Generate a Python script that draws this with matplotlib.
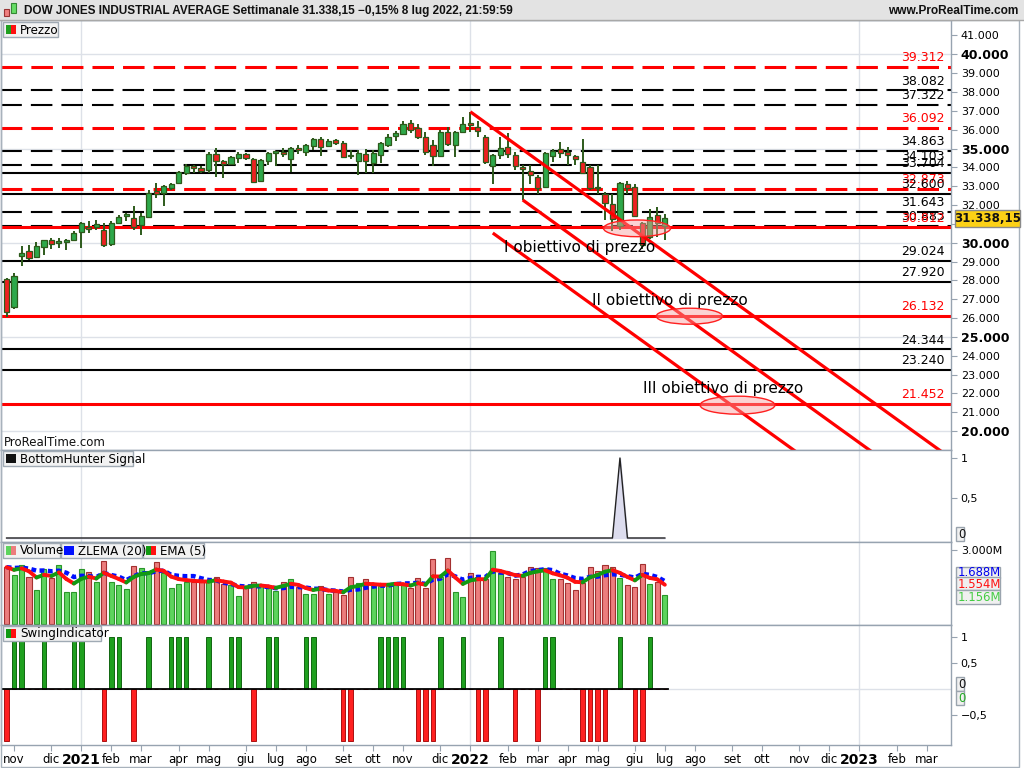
import matplotlib
matplotlib.use('Agg')
import matplotlib.pyplot as plt
import matplotlib.dates as mdates
import matplotlib.transforms as mtransforms
from matplotlib.patches import Rectangle, Ellipse
from matplotlib.collections import LineCollection
import numpy as np
import pandas as pd

plt.rcParams['font.family'] = ['DejaVu Sans']
plt.rcParams['lines.scale_dashes'] = False

# ---------------- data ----------------
week_start = '2020-10-26'
opens = [28060, 26570, 29300, 29550, 29230, 29760, 30160, 29990, 30040, 30150,
         30590, 30860, 30850, 30670, 29930, 31060, 31420, 31300, 30950, 31390,
         32750, 32650, 32900, 33150, 33700, 34060, 33950, 33870, 34690, 34340,
         34170, 34520, 34710, 34430, 33250, 34340, 34780, 34800, 34440, 35020,
         34840, 35130, 35490, 35130, 35440, 35310, 34610, 34360, 34710, 34220,
         34660, 35190, 35680, 35760, 36330, 36070, 35600, 35180, 34600, 35890,
         35190, 35900, 36330, 36130, 35600, 34070, 34660, 35070, 34650, 34034,
         33800, 33500, 32950, 34600, 34960, 34800, 34600, 34300, 34030, 32980,
         32570, 32050, 30880, 33100, 32940, 31030, 30320, 31470, 30870]
highs = [28150, 28380, 29825, 29880, 30030, 30150, 30233, 30233, 30196, 30600,
         31120, 31150, 31205, 31030, 31160, 31470, 31590, 31950, 31560, 32800,
         33150, 33070, 33150, 33820, 34180, 34110, 34070, 34790, 35050, 34380,
         34620, 34830, 34760, 34500, 34450, 34800, 34830, 35050, 35100, 35170,
         35250, 35560, 35600, 35500, 35490, 35400, 34920, 34900, 35000, 34920,
         35330, 35760, 35950, 36460, 36500, 36300, 35860, 35450, 36000, 36150,
         35950, 36680, 36950, 36480, 35700, 34700, 35600, 35820, 34830, 34100,
         34100, 33600, 34800, 35000, 35360, 35100, 34650, 35500, 34100, 34120,
         32700, 32600, 33200, 33250, 33100, 31100, 31790, 31900, 31500]
lows = [26070, 26500, 28780, 29080, 29200, 29330, 29680, 29702, 29612, 30100,
        29740, 30500, 30674, 29760, 29800, 31040, 31170, 30700, 30410, 31300,
        32400, 31950, 32800, 33100, 33600, 33720, 33680, 33700, 33470, 33420,
        34100, 34246, 34400, 33150, 33200, 34100, 34087, 34560, 33740, 34720,
        34620, 34920, 34620, 35080, 35186, 34500, 34430, 33570, 33680, 33700,
        34250, 35080, 35410, 35700, 35840, 35480, 34650, 34060, 34550, 35120,
        34560, 35860, 35900, 35600, 34200, 33100, 34430, 34480, 33860, 32270,
        33100, 32580, 32880, 34300, 34480, 34125, 34130, 33700, 32800, 32600,
        31230, 30630, 30700, 32600, 31350, 29650, 30200, 30300, 30150]
closes = [26340, 28230, 29440, 29180, 29850, 30130, 29950, 30100, 30170, 30500,
          31030, 30720, 30990, 29890, 31030, 31380, 31520, 30850, 31420, 32650,
          32590, 32990, 33100, 33750, 34070, 33980, 33830, 34700, 34340, 34190,
          34530, 34720, 34470, 33210, 34390, 34750, 34830, 34690, 35010, 34930,
          35190, 35490, 35070, 35420, 35300, 34560, 34580, 34780, 34330, 34750,
          35290, 35600, 35820, 36300, 35990, 35600, 34800, 34580, 35900, 35240,
          35900, 36300, 36230, 35910, 34260, 34650, 35010, 34700, 34060, 33900,
          33600, 32900, 34750, 34860, 34750, 34660, 34450, 33720, 32900, 32900,
          32100, 31260, 33150, 32900, 31400, 29890, 31380, 31030, 31338]
volumes_m = [2.30, 1.98, 2.38, 1.89, 1.38, 2.21, 1.85, 2.38, 1.28, 1.28,
             2.21, 2.09, 1.69, 2.54, 1.69, 1.58, 1.40, 2.35, 2.26, 2.13,
             2.50, 2.05, 1.45, 1.62, 1.69, 1.69, 1.69, 1.69, 1.89, 1.62,
             1.58, 1.13, 1.45, 1.69, 1.58, 1.45, 1.35, 1.69, 1.81, 1.49,
             1.21, 1.21, 1.54, 1.21, 1.31, 1.17, 1.89, 1.65, 1.81, 1.58,
             1.55, 1.58, 1.70, 1.58, 1.45, 1.85, 1.45, 2.62, 1.90, 2.66,
             1.31, 1.11, 2.05, 1.91, 1.81, 2.97, 2.05, 1.89, 1.81, 1.89,
             2.30, 2.26, 2.26, 1.81, 1.81, 1.67, 1.38, 1.65, 2.30, 2.16,
             2.39, 2.30, 1.85, 1.58, 1.49, 2.43, 1.62, 1.69, 1.156]
bottom_hunter = [0, 0, 0, 0, 0, 0, 0, 0, 0, 0, 0, 0, 0, 0, 0, 0, 0, 0, 0, 0,
                 0, 0, 0, 0, 0, 0, 0, 0, 0, 0, 0, 0, 0, 0, 0, 0, 0, 0, 0, 0,
                 0, 0, 0, 0, 0, 0, 0, 0, 0, 0, 0, 0, 0, 0, 0, 0, 0, 0, 0, 0,
                 0, 0, 0, 0, 0, 0, 0, 0, 0, 0, 0, 0, 0, 0, 0, 0, 0, 0, 0, 0,
                 0, 0, 1, 0, 0, 0, 0, 0, 0]
swing = [-1, 1, 1, 0, 0, 1, 0, 0, 0, 1,
         1, 0, 0, -1, 1, 1, 0, -1, 0, 1,
         0, 0, 1, 1, 1, 0, 0, 1, 0, 0,
         1, 1, 0, -1, 0, 1, 1, 0, 0, 0,
         1, 1, 0, 0, 0, -1, -1, 0, 0, 0,
         1, 1, 1, 1, 0, -1, -1, -1, 1, 0,
         0, 1, 0, -1, -1, 0, 1, 0, -1, 0,
         0, -1, 1, 1, 0, 0, 0, -1, -1, -1,
         -1, 0, 1, 0, -1, -1, 1, 0, 0]

dashed_levels = [39312, 38082, 37322, 36092, 34863, 34103, 32873, 31643, 30883]
dashed_colors = ['red', 'black', 'black', 'red', 'black', 'black', 'red', 'black', 'black']
solid_levels = [33704, 32600, 30812, 29024, 27920, 26132, 24344, 23240, 21452]
solid_colors = ['black', 'black', 'red', 'black', 'black', 'red', 'black', 'black', 'red']

channel_start_dates = ['2022-01-03', '2022-02-21', '2022-01-24']
channel_start_prices = [36950, 32270, 30515]
channel_slope_per_day = -40.9

target_labels = ['I obiettivo di prezzo', 'II obiettivo di prezzo', 'III obiettivo di prezzo']
target_label_dates = ['2022-04-15', '2022-07-09', '2022-08-28']
target_label_prices = [29772, 26958, 22287]
ellipse_dates = ['2022-06-08', '2022-07-27', '2022-09-10']
ellipse_prices = [30764, 26100, 21380]
ellipse_width_days = [62.7, 62.0, 70.0]
ellipse_height_price = [886, 850, 955]

it_months = ['gen', 'feb', 'mar', 'apr', 'mag', 'giu', 'lug', 'ago', 'set', 'ott', 'nov', 'dic']
view_start, view_end = '2020-10-20 19:00', '2023-03-28 19:00'

# ---------------- figure ----------------
W, H = 1024, 768
fig = plt.figure(figsize=(W / 100, H / 100), dpi=100)
fig.patch.set_facecolor('white')


def px_axes(l, t, r, b):
    return fig.add_axes([l / W, 1 - b / H, (r - l) / W, (b - t) / H])


def frect(x0, y0, x1, y1, **kw):
    r = Rectangle((x0 / W, 1 - y1 / H), (x1 - x0) / W, (y1 - y0) / H,
                  transform=fig.transFigure, **kw)
    fig.add_artist(r)
    return r


def ftext(xp, yp, s, **kw):
    return fig.text(xp / W, 1 - yp / H, s, **kw)


dates = pd.date_range(week_start, periods=len(opens), freq='7D')
x = mdates.date2num(dates)
o = np.array(opens, float); h = np.array(highs, float)
lo = np.array(lows, float); c = np.array(closes, float)
up = c >= o

ax_p = px_axes(1, 20, 951, 450)
ax_b = px_axes(1, 450, 951, 542)
ax_v = px_axes(1, 542, 951, 625)
ax_s = px_axes(1, 625, 951, 745)
axes = [ax_p, ax_b, ax_v, ax_s]
xmin, xmax = mdates.date2num(pd.Timestamp(view_start)), mdates.date2num(pd.Timestamp(view_end))

# month ticks at first weekly bar of each month
all_weeks = pd.date_range(week_start, '2023-04-30', freq='7D')
tick_dates, tick_labels, year_ticks = [], [], []
seen = set()
for d in all_weeks:
    key = (d.year, d.month)
    if key in seen:
        continue
    seen.add(key)
    xv = mdates.date2num(d)
    if xv < mdates.date2num(pd.Timestamp('2020-11-01')) or xv > xmax:
        continue
    tick_dates.append(xv)
    if d.month == 1:
        tick_labels.append(str(d.year))
        year_ticks.append(xv)
    else:
        tick_labels.append(it_months[d.month - 1])

spine_col = '#97a3b0'
for ax in axes:
    ax.set_xlim(xmin, xmax)
    ax.set_facecolor('white')
    for s in ax.spines.values():
        s.set_color(spine_col)
        s.set_linewidth(1)
    ax.yaxis.tick_right()
    ax.tick_params(axis='y', direction='out', length=4, color=spine_col,
                   labelsize=8, pad=3)
    ax.set_xticks(tick_dates)
    for yt in year_ticks:
        ax.axvline(yt, color='#dde1e8', lw=1, zorder=0)
    if ax is not ax_s:
        ax.tick_params(axis='x', length=0, labelbottom=False)

# ---------------- price panel ----------------
ax_p.set_ylim(19000, 41820)
pt = list(range(20000, 41001, 1000))
ax_p.set_yticks(pt)
# the 31.000 label is hidden behind the last-price box in the reference
ax_p.set_yticklabels(['' if v == 31000 else f"{v // 1000}.000" for v in pt])
for v, lab in zip(pt, ax_p.get_yticklabels()):
    if v % 5000 == 0:
        lab.set_fontweight('bold')
        lab.set_fontsize(9)
for g in range(20000, 41001, 5000):
    ax_p.axhline(g, color='#dde1e8', lw=1, zorder=0)

blend = mtransforms.blended_transform_factory(ax_p.transAxes, ax_p.transData)
for lv, col in zip(dashed_levels, dashed_colors):
    lw = 2.2 if col == 'red' else 1.5
    ax_p.axhline(lv, color=col, lw=lw, ls=(0.5, (15.5, 6.5)), zorder=1)
    ax_p.annotate(f"{lv:,}".replace(',', '.'), xy=(0.9935, lv), xycoords=blend,
                  xytext=(0, 2), textcoords='offset points', ha='right', va='bottom',
                  fontsize=9, color='red' if col == 'red' else 'black', zorder=6)
for lv, col in zip(solid_levels, solid_colors):
    lw = 2.2 if col == 'red' else 1.5
    ax_p.axhline(lv, color=col, lw=lw, zorder=1)
    ax_p.annotate(f"{lv:,}".replace(',', '.'), xy=(0.9935, lv), xycoords=blend,
                  xytext=(0, 2), textcoords='offset points', ha='right', va='bottom',
                  fontsize=9, color='red' if col == 'red' else 'black', zorder=6)

# candles
body_w = 4.8
wick_col = '#2d5a1b'
ax_p.vlines(x, lo, h, color=wick_col, lw=1.4, zorder=3)
body_bottom = np.minimum(o, c)
body_h = np.maximum(np.abs(c - o), 70)
ax_p.bar(x, body_h, bottom=body_bottom, width=body_w,
         color=np.where(up, '#2ea84a', '#ee2020'), edgecolor=wick_col, lw=0.9, zorder=4)

# channel lines
for sd, sp in zip(channel_start_dates, channel_start_prices):
    xs = mdates.date2num(pd.Timestamp(sd))
    xe = xs + (sp - 18000) / (-channel_slope_per_day)
    ax_p.plot([xs, xe], [sp, sp + channel_slope_per_day * (xe - xs)],
              color='#ff0000', lw=2.3, zorder=5, solid_capstyle='butt')

for ed, ep, ew, eh in zip(ellipse_dates, ellipse_prices, ellipse_width_days, ellipse_height_price):
    ax_p.add_patch(Ellipse((mdates.date2num(pd.Timestamp(ed)), ep), ew, eh,
                           facecolor=(0.97, 0.62, 0.62, 0.45), edgecolor='#ff2020',
                           lw=1, zorder=5.5))
for lab, td, tp in zip(target_labels, target_label_dates, target_label_prices):
    ax_p.text(mdates.date2num(pd.Timestamp(td)), tp, lab, ha='center', va='center',
              fontsize=11, color='black', zorder=6)

ax_p.text(0.003, 0.018, 'ProRealTime.com', transform=ax_p.transAxes, fontsize=8.5,
          ha='left', va='center', color='#111')

# ---------------- BottomHunter panel ----------------
bh = np.array(bottom_hunter, float)
ax_b.set_ylim(-0.05, 1.1)
ax_b.fill_between(x, 0, bh, color='#dcdcee', zorder=2)
ax_b.plot(x, bh, color='#222222', lw=1, zorder=3)
ax_b.set_yticks([0.5, 1])
ax_b.set_yticklabels(['0,5', '1'])

# ---------------- Volume panel ----------------
vol = pd.Series(volumes_m)
ax_v.set_ylim(-0.04, 3.32)
ax_v.bar(x, vol, width=4.7, color=np.where(up, '#5dd45d', '#ec7d7d'),
         edgecolor=np.where(up, '#2a962a', '#a33030'), lw=0.8, zorder=2)
ema5 = vol.ewm(span=5, adjust=False).mean().values
lag = 9
zl_src = (2 * vol - vol.shift(lag)).fillna(vol)
zlema = zl_src.ewm(span=20, adjust=False).mean().values
ax_v.plot(x, zlema, color='#0010ff', lw=3.2, ls=(0, (3.5, 2.5)), zorder=3)
pts = np.column_stack([x, ema5])
segs = np.stack([pts[:-1], pts[1:]], axis=1)
seg_cols = ['#129a12' if ema5[i + 1] >= ema5[i] else '#ff1010' for i in range(len(ema5) - 1)]
ax_v.add_collection(LineCollection(segs, colors=seg_cols, linewidths=2.8,
                                   capstyle='round', zorder=4))
ax_v.set_yticks([3.0])
ax_v.set_yticklabels(['3.000M'])

# ---------------- Swing panel ----------------
sw = np.array(swing, float)
ax_s.set_ylim(-1.07, 1.24)
ax_s.axhline(0, color='#dde1e8', lw=1, zorder=0)
ax_s.bar(x, sw, width=4.2, color=np.where(sw > 0, '#1fa01f', '#ff2020'),
         edgecolor=np.where(sw > 0, '#116611', '#aa1111'), lw=0.7, zorder=2)
ax_s.plot([x[0] - 3, x[-1] + 3], [0, 0], color='black', lw=1.3, zorder=3)
ax_s.set_yticks([1, 0.5, -0.5])
ax_s.set_yticklabels(['1', '0,5', '\u22120,5'])
ax_s.set_xticklabels(tick_labels)
ax_s.tick_params(axis='x', direction='out', length=4, color=spine_col, labelsize=8.5, pad=2)
for lab in ax_s.get_xticklabels():
    if lab.get_text().isdigit():
        lab.set_fontweight('bold')
        lab.set_fontsize(10)

# ---------------- decorations ----------------
frect(0, 0, W, 20, facecolor='#e3e3e3', edgecolor='none', zorder=1)
fig.add_artist(plt.Line2D([0, 1], [1 - 20 / H, 1 - 20 / H], transform=fig.transFigure,
                          color='#a8a8a8', lw=1))
# title icon
frect(3.5, 9, 8.5, 16, facecolor='#f08080', edgecolor='#993333', lw=0.8, zorder=3)
frect(10.5, 3, 15.5, 13, facecolor='#66dd66', edgecolor='#338833', lw=0.8, zorder=3)
ftext(24, 11, 'DOW JONES INDUSTRIAL AVERAGE Settimanale 31.338,15 \u22120,15% 8 lug 2022, 21:59:59',
      fontsize=8.45, fontweight='bold', va='center', ha='left', color='#111', zorder=4,
      family=['Liberation Sans', 'DejaVu Sans'])
ftext(1018, 11, 'www.ProRealTime.com', fontsize=8.6, fontweight='bold', va='center',
      ha='right', color='#111', zorder=4, family=['Liberation Sans', 'DejaVu Sans'])

# outer frame
frect(0.5, 20, 1019, 767, facecolor='none', edgecolor='#a8b2bc', lw=1, zorder=0.5)


def legend_box(x0, y0, x1, text, icons, tcol='black'):
    frect(x0, y0, x1, y0 + 15, facecolor='#f2f2f2', edgecolor='#a0aab4', lw=1, zorder=8)
    ix = x0 + 3
    for col in icons:
        frect(ix, y0 + 3, ix + 5, y0 + 12, facecolor=col, edgecolor='none', zorder=9)
        ix += 5
    ftext(x0 + 3 + 5 * len(icons) + 4, y0 + 8, text, fontsize=8.6, va='center',
          ha='left', color=tcol, zorder=9)


legend_box(3, 22, 58, 'Prezzo', ['#1fa01f', '#ff1010'])
legend_box(3, 451, 133, 'BottomHunter Signal', ['#111111', '#111111'])
legend_box(3, 543, 60, 'Volume', ['#5dd45d', '#ec7d7d'])
legend_box(61, 543, 142, 'ZLEMA (20)', ['#0010ff', '#0010ff'])
legend_box(143, 543, 204, 'EMA (5)', ['#129a12', '#ff1010'])
legend_box(3, 626, 101, 'SwingIndicator', ['#129a12', '#ff1010'])

# price marker box
frect(955, 210, 1020, 227, facecolor='#fcd116', edgecolor='#8a8a8a', lw=1, zorder=8)
ftext(987.5, 219, '31.338,15', fontsize=8.6, fontweight='bold', ha='center',
      va='center', color='#111', zorder=9)


def value_box(x0, y0, y1, s, col):
    frect(x0, y0, x0 + len(s) * 7.1 + 1, y1, facecolor='#f0f0f0', edgecolor='#9aa4ae',
          lw=1, zorder=8)
    ftext(x0 + 2, (y0 + y1) / 2 + 0.5, s, fontsize=8.4, ha='left', va='center',
          color=col, zorder=9)


value_box(956, 567, 578, '1.688M', '#0000ee')
value_box(956, 577, 590, '1.554M', '#ff1010')
value_box(956, 590, 604, '1.156M', '#44cc44')
value_box(956, 527, 541, '0', '#111111')
value_box(956, 677, 691, '0', '#111111')
value_box(956, 691, 705, '0', '#22aa22')

fig.savefig('out.png', dpi=100, facecolor='white')
